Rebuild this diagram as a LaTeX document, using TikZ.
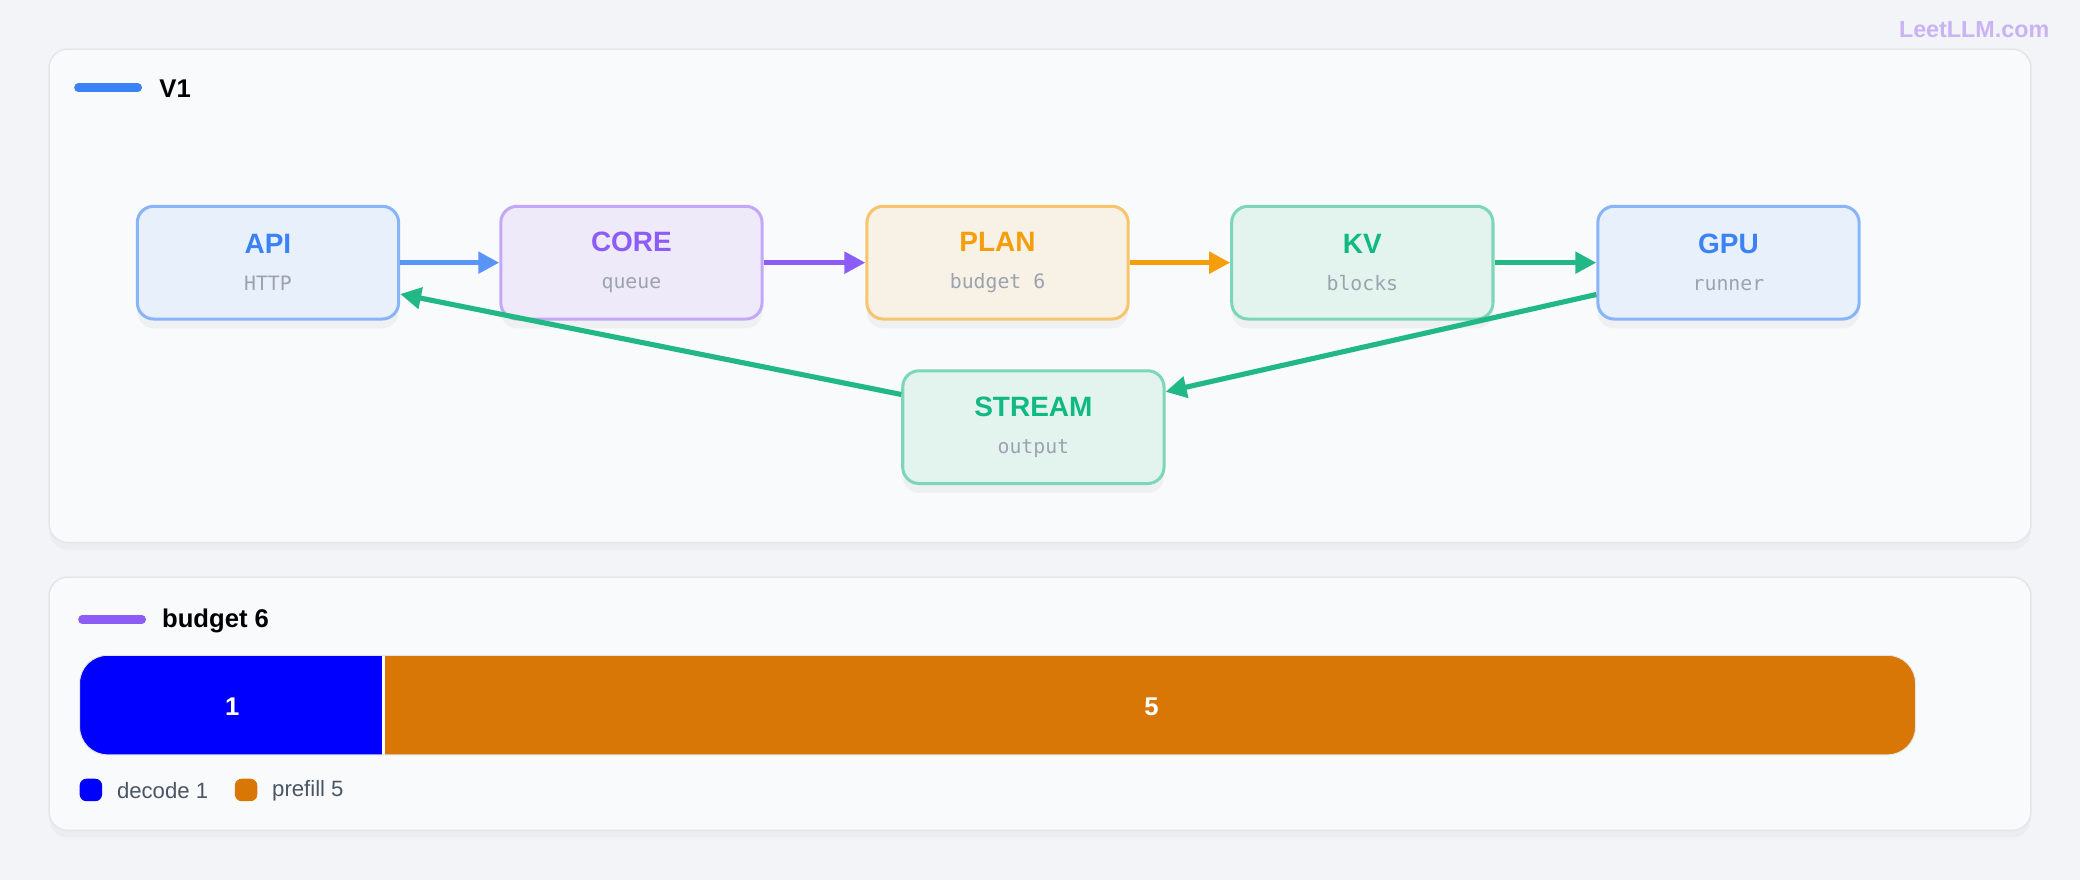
\documentclass[tikz,border=0pt]{standalone}
\usepackage{fontspec}
\setmainfont{Liberation Sans}
\setmonofont{DejaVu Sans Mono}
\usetikzlibrary{arrows.meta,shadows}
\definecolor{bgc}{HTML}{F3F4F7}
\definecolor{panelc}{HTML}{F8FAFC}
\definecolor{panelb}{HTML}{E2E5EA}
\definecolor{blueT}{HTML}{3B82F6}
\definecolor{blueF}{HTML}{E8F0FB}
\definecolor{blueB}{HTML}{8AB4F8}
\definecolor{purT}{HTML}{8B5CF6}
\definecolor{purF}{HTML}{EEEAF9}
\definecolor{purB}{HTML}{C4A8F8}
\definecolor{oraT}{HTML}{F59E0B}
\definecolor{oraF}{HTML}{F7F1E6}
\definecolor{oraB}{HTML}{F8C46C}
\definecolor{grnT}{HTML}{10B981}
\definecolor{grnF}{HTML}{E3F4EF}
\definecolor{grnB}{HTML}{7DD6B8}
\definecolor{grnA}{HTML}{22B886}
\definecolor{subc}{HTML}{9CA3AF}
\definecolor{barB}{HTML}{0000FF}
\definecolor{barO}{HTML}{D97706}
\definecolor{txt}{HTML}{4B5563}
\definecolor{logoc}{HTML}{C9B3F5}
\tikzset{
  panel/.style={draw=panelb,fill=panelc,rounded corners=8pt,line width=0.6pt,
    drop shadow={opacity=0.06,shadow xshift=0pt,shadow yshift=-3pt}},
  box/.style={rounded corners=7pt,line width=1.3pt,minimum width=3.94cm,minimum height=1.7cm,
    align=center,inner sep=0pt,drop shadow={opacity=0.08,shadow xshift=0pt,shadow yshift=-4pt}},
  flow/.style={line width=2.2pt,-{Triangle[length=9pt,width=9pt]}}
}
\newcommand{\boxtext}[3]{{\color{#1}\bfseries\fontsize{12}{14}\selectfont #2}\\[4pt]{\ttfamily\fontsize{8.5}{10}\selectfont\color{subc}#3}}
\begin{document}
\begin{tikzpicture}[x=0.02cm,y=-0.02cm]
\fill[bgc] (0,0) rectangle (1568,663);
\useasboundingbox (0,0) rectangle (1568,663);
\node[text=logoc,font=\bfseries\fontsize{10}{12}\selectfont,anchor=east] (logo) at (1551,22) {LeetLLM.com};

% panel one
\draw[panel] (37,37) rectangle (1531,409);
\draw[blueT,line width=3.5pt,line cap=round] (59,66) -- (104,66);
\node[anchor=west,font=\bfseries\fontsize{11}{13}\selectfont] (v1) at (114,67) {V1};

\node[box,draw=blueB,fill=blueF] (api) at (202,198) {\boxtext{blueT}{API}{HTTP}};
\node[box,draw=purB,fill=purF] (core) at (476,198) {\boxtext{purT}{CORE}{queue}};
\node[box,draw=oraB,fill=oraF] (plan) at (752,198) {\boxtext{oraT}{PLAN}{budget 6}};
\node[box,draw=grnB,fill=grnF] (kv) at (1027,198) {\boxtext{grnT}{KV}{blocks}};
\node[box,draw=blueB,fill=blueF] (gpu) at (1303,198) {\boxtext{blueT}{GPU}{runner}};
\node[box,draw=grnB,fill=grnF] (stream) at (779,322) {\boxtext{grnT}{STREAM}{output}};

\draw[flow,blueT!85] (api) -- (core);
\draw[flow,purT] (core) -- (plan);
\draw[flow,oraT] (plan) -- (kv);
\draw[flow,grnA] (kv) -- (gpu);
\draw[flow,grnA] ([yshift=-0.48cm]gpu.west) -- ([yshift=-0.34cm]stream.north east);
\draw[flow,grnA] ([yshift=-0.38cm]stream.north west) -- ([yshift=0.4cm]api.south east);

% panel two
\draw[panel] (37,435) rectangle (1531,626);
\draw[purT,line width=3.5pt,line cap=round] (62,467) -- (107,467);
\node[anchor=west,font=\bfseries\fontsize{11}{13}\selectfont] (bud) at (116,468) {budget 6};
\begin{scope}
\clip[rounded corners=12pt] (60,494) rectangle (1444,569);
\fill[barB] (60,494) rectangle (288,569);
\fill[barO] (290,494) rectangle (1444,569);
\end{scope}
\draw[panelb,rounded corners=12pt] (60,494) rectangle (1444,569);
\node[text=white,font=\bfseries\fontsize{11}{13}\selectfont] (n1) at (175,533) {1};
\node[text=white,font=\bfseries\fontsize{11}{13}\selectfont] (n5) at (868,533) {5};
\fill[barB,rounded corners=3pt] (60,587) rectangle (77,604);
\node[anchor=west,text=txt,font=\fontsize{9.5}{11}\selectfont] (dec) at (82,596) {decode 1};
\fill[barO,rounded corners=3pt] (177,587) rectangle (194,604);
\node[anchor=west,text=txt,font=\fontsize{9.5}{11}\selectfont] (pre) at (199,596) {prefill 5};
\end{tikzpicture}
\end{document}
